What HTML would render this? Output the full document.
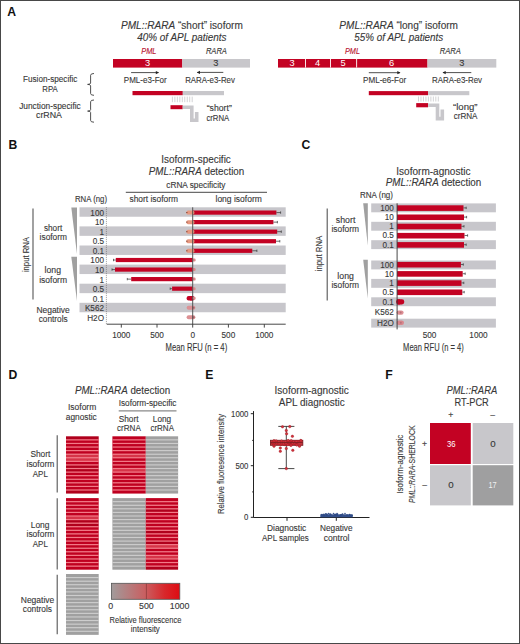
<!DOCTYPE html>
<html><head><meta charset="utf-8"><style>
html,body{margin:0;padding:0;background:#fff;}
body{width:520px;height:644px;overflow:hidden;}
svg{display:block;font-family:"Liberation Sans",sans-serif;}
</style></head><body>
<svg width="520" height="644" viewBox="0 0 520 644">
<rect x="0" y="0" width="520" height="644" fill="#fff"/>
<text x="7.3" y="15.6" font-size="12.2" text-anchor="start" fill="#111" font-weight="bold" font-style="normal" >A</text>
<text x="8.6" y="148.6" font-size="12.2" text-anchor="start" fill="#111" font-weight="bold" font-style="normal" >B</text>
<text x="301.6" y="148.6" font-size="12.2" text-anchor="start" fill="#111" font-weight="bold" font-style="normal" >C</text>
<text x="8.4" y="379.3" font-size="12.2" text-anchor="start" fill="#111" font-weight="bold" font-style="normal" >D</text>
<text x="205.2" y="379.3" font-size="12.2" text-anchor="start" fill="#111" font-weight="bold" font-style="normal" >E</text>
<text x="385.2" y="379.3" font-size="12.2" text-anchor="start" fill="#111" font-weight="bold" font-style="normal" >F</text>
<text x="121" y="29.0" font-size="10.37" text-anchor="start" fill="#383838" font-weight="normal" font-style="normal" textLength="121.8" lengthAdjust="spacingAndGlyphs" stroke="#383838" stroke-width="0.12" ><tspan font-style="italic">PML::RARA</tspan> “short” isoform</text>
<text x="137.2" y="41.2" font-size="10.37" text-anchor="start" fill="#383838" font-weight="normal" font-style="italic" textLength="89.4" lengthAdjust="spacingAndGlyphs" stroke="#383838" stroke-width="0.12" >40% of APL patients</text>
<text x="141.2" y="53.8" font-size="8.21" text-anchor="start" fill="#b8102e" font-weight="normal" font-style="italic" textLength="15.3" lengthAdjust="spacingAndGlyphs" stroke="#b8102e" stroke-width="0.12" >PML</text>
<text x="205.9" y="53.8" font-size="8.21" text-anchor="start" fill="#383838" font-weight="normal" font-style="italic" textLength="21" lengthAdjust="spacingAndGlyphs" stroke="#383838" stroke-width="0.12" >RARA</text>
<rect x="113.00" y="59.00" width="69.30" height="8.60" fill="#c30223" />
<rect x="182.30" y="59.00" width="67.70" height="8.60" fill="#c8c7cb" />
<text x="147.6" y="65.9" font-size="9.29" text-anchor="middle" fill="#fff" font-weight="normal" font-style="normal" >3</text>
<text x="215.8" y="65.9" font-size="9.29" text-anchor="middle" fill="#383838" font-weight="normal" font-style="normal" stroke="#383838" stroke-width="0.12" >3</text>
<text x="339.3" y="29.0" font-size="10.37" text-anchor="start" fill="#383838" font-weight="normal" font-style="normal" textLength="118.7" lengthAdjust="spacingAndGlyphs" stroke="#383838" stroke-width="0.12" ><tspan font-style="italic">PML::RARA</tspan> “long” isoform</text>
<text x="354.3" y="41.2" font-size="10.37" text-anchor="start" fill="#383838" font-weight="normal" font-style="italic" textLength="89" lengthAdjust="spacingAndGlyphs" stroke="#383838" stroke-width="0.12" >55% of APL patients</text>
<text x="345.0" y="53.8" font-size="8.21" text-anchor="start" fill="#b8102e" font-weight="normal" font-style="italic" textLength="15.0" lengthAdjust="spacingAndGlyphs" stroke="#b8102e" stroke-width="0.12" >PML</text>
<text x="439.7" y="53.8" font-size="8.21" text-anchor="start" fill="#383838" font-weight="normal" font-style="italic" textLength="21.2" lengthAdjust="spacingAndGlyphs" stroke="#383838" stroke-width="0.12" >RARA</text>
<rect x="278.00" y="59.00" width="149.50" height="8.60" fill="#c30223" />
<rect x="427.50" y="59.00" width="68.80" height="8.60" fill="#c8c7cb" />
<rect x="305.00" y="59.00" width="0.90" height="8.60" fill="#fff" />
<rect x="330.00" y="59.00" width="0.90" height="8.60" fill="#fff" />
<rect x="356.20" y="59.00" width="0.90" height="8.60" fill="#fff" />
<text x="292" y="65.9" font-size="9.29" text-anchor="middle" fill="#fff" font-weight="normal" font-style="normal" >3</text>
<text x="317.5" y="65.9" font-size="9.29" text-anchor="middle" fill="#fff" font-weight="normal" font-style="normal" >4</text>
<text x="343" y="65.9" font-size="9.29" text-anchor="middle" fill="#fff" font-weight="normal" font-style="normal" >5</text>
<text x="391.7" y="65.9" font-size="9.29" text-anchor="middle" fill="#fff" font-weight="normal" font-style="normal" >6</text>
<text x="461.8" y="65.9" font-size="9.29" text-anchor="middle" fill="#383838" font-weight="normal" font-style="normal" stroke="#383838" stroke-width="0.12" >3</text>
<line x1="131.1" y1="72.6" x2="158.5" y2="72.6" stroke="#222" stroke-width="0.8" />
<path d="M159.0,72.6 l-3.2,-1.6 l0,3.2 z" fill="#222"/>
<line x1="197.3" y1="72.4" x2="223.3" y2="72.4" stroke="#222" stroke-width="0.8" />
<path d="M196.8,72.4 l3.2,-1.6 l0,3.2 z" fill="#222"/>
<line x1="368.8" y1="72.7" x2="400.0" y2="72.7" stroke="#222" stroke-width="0.8" />
<path d="M400.5,72.7 l-3.2,-1.6 l0,3.2 z" fill="#222"/>
<line x1="443.0" y1="72.6" x2="471.3" y2="72.6" stroke="#222" stroke-width="0.8" />
<path d="M442.5,72.6 l3.2,-1.6 l0,3.2 z" fill="#222"/>
<text x="123.8" y="82.6" font-size="8.86" text-anchor="start" fill="#383838" font-weight="normal" font-style="normal" textLength="42.9" lengthAdjust="spacingAndGlyphs" stroke="#383838" stroke-width="0.12" >PML-e3-For</text>
<text x="185.2" y="82.5" font-size="8.86" text-anchor="start" fill="#383838" font-weight="normal" font-style="normal" textLength="49.7" lengthAdjust="spacingAndGlyphs" stroke="#383838" stroke-width="0.12" >RARA-e3-Rev</text>
<text x="363.0" y="82.5" font-size="8.86" text-anchor="start" fill="#383838" font-weight="normal" font-style="normal" textLength="43.2" lengthAdjust="spacingAndGlyphs" stroke="#383838" stroke-width="0.12" >PML-e6-For</text>
<text x="432.0" y="82.5" font-size="8.86" text-anchor="start" fill="#383838" font-weight="normal" font-style="normal" textLength="50" lengthAdjust="spacingAndGlyphs" stroke="#383838" stroke-width="0.12" >RARA-e3-Rev</text>
<rect x="132.50" y="91.00" width="50.30" height="4.20" fill="#c30223" />
<rect x="182.80" y="91.00" width="41.20" height="4.20" fill="#c8c7cb" />
<rect x="368.80" y="91.10" width="59.30" height="4.10" fill="#c30223" />
<rect x="428.10" y="91.10" width="41.20" height="4.10" fill="#c8c7cb" />
<line x1="172.40" y1="96.6" x2="172.40" y2="102.2" stroke="#b5b5b8" stroke-width="0.6" />
<line x1="174.88" y1="96.6" x2="174.88" y2="102.2" stroke="#b5b5b8" stroke-width="0.6" />
<line x1="177.35" y1="96.6" x2="177.35" y2="102.2" stroke="#b5b5b8" stroke-width="0.6" />
<line x1="179.82" y1="96.6" x2="179.82" y2="102.2" stroke="#b5b5b8" stroke-width="0.6" />
<line x1="182.30" y1="96.6" x2="182.30" y2="102.2" stroke="#b5b5b8" stroke-width="0.6" />
<line x1="184.78" y1="96.6" x2="184.78" y2="102.2" stroke="#b5b5b8" stroke-width="0.6" />
<line x1="187.25" y1="96.6" x2="187.25" y2="102.2" stroke="#b5b5b8" stroke-width="0.6" />
<line x1="189.72" y1="96.6" x2="189.72" y2="102.2" stroke="#b5b5b8" stroke-width="0.6" />
<line x1="192.20" y1="96.6" x2="192.20" y2="102.2" stroke="#b5b5b8" stroke-width="0.6" />
<line x1="418.50" y1="96.5" x2="418.50" y2="101.5" stroke="#b5b5b8" stroke-width="0.6" />
<line x1="420.98" y1="96.5" x2="420.98" y2="101.5" stroke="#b5b5b8" stroke-width="0.6" />
<line x1="423.45" y1="96.5" x2="423.45" y2="101.5" stroke="#b5b5b8" stroke-width="0.6" />
<line x1="425.93" y1="96.5" x2="425.93" y2="101.5" stroke="#b5b5b8" stroke-width="0.6" />
<line x1="428.40" y1="96.5" x2="428.40" y2="101.5" stroke="#b5b5b8" stroke-width="0.6" />
<line x1="430.88" y1="96.5" x2="430.88" y2="101.5" stroke="#b5b5b8" stroke-width="0.6" />
<line x1="433.35" y1="96.5" x2="433.35" y2="101.5" stroke="#b5b5b8" stroke-width="0.6" />
<line x1="435.82" y1="96.5" x2="435.82" y2="101.5" stroke="#b5b5b8" stroke-width="0.6" />
<line x1="438.30" y1="96.5" x2="438.30" y2="101.5" stroke="#b5b5b8" stroke-width="0.6" />
<rect x="170.50" y="105.20" width="12.20" height="4.00" fill="#c30223" />
<path d="M182.7,107.2 H191.8 V120.2 H196.7 V111.9" fill="none" stroke="#c8c7cb" stroke-width="3.6" stroke-linejoin="miter"/>
<rect x="416.20" y="103.10" width="11.90" height="4.20" fill="#c30223" />
<path d="M428.1,105.2 H437.5 V118.6 H442.3 V109.6" fill="none" stroke="#c8c7cb" stroke-width="3.6" stroke-linejoin="miter"/>
<text x="206.7" y="111.0" font-size="8.86" text-anchor="start" fill="#383838" font-weight="normal" font-style="normal" textLength="25.1" lengthAdjust="spacingAndGlyphs" stroke="#383838" stroke-width="0.12" >“short”</text>
<text x="206.4" y="120.5" font-size="8.86" text-anchor="start" fill="#383838" font-weight="normal" font-style="normal" textLength="22.8" lengthAdjust="spacingAndGlyphs" stroke="#383838" stroke-width="0.12" >crRNA</text>
<text x="453.0" y="110.0" font-size="8.86" text-anchor="start" fill="#383838" font-weight="normal" font-style="normal" textLength="24.5" lengthAdjust="spacingAndGlyphs" stroke="#383838" stroke-width="0.12" >“long”</text>
<text x="453.7" y="118.5" font-size="8.86" text-anchor="start" fill="#383838" font-weight="normal" font-style="normal" textLength="23.8" lengthAdjust="spacingAndGlyphs" stroke="#383838" stroke-width="0.12" >crRNA</text>
<text x="50.2" y="81.9" font-size="8.86" text-anchor="middle" fill="#383838" font-weight="normal" font-style="normal" textLength="54.3" lengthAdjust="spacingAndGlyphs" stroke="#383838" stroke-width="0.12" >Fusion-specific</text>
<text x="50.0" y="91.9" font-size="8.86" text-anchor="middle" fill="#383838" font-weight="normal" font-style="normal" textLength="15.4" lengthAdjust="spacingAndGlyphs" stroke="#383838" stroke-width="0.12" >RPA</text>
<text x="50.0" y="109.3" font-size="8.86" text-anchor="middle" fill="#383838" font-weight="normal" font-style="normal" textLength="61.6" lengthAdjust="spacingAndGlyphs" stroke="#383838" stroke-width="0.12" >Junction-specific</text>
<text x="49.0" y="117.9" font-size="8.86" text-anchor="middle" fill="#383838" font-weight="normal" font-style="normal" textLength="26" lengthAdjust="spacingAndGlyphs" stroke="#383838" stroke-width="0.12" >crRNA</text>
<path d="M94.0,73.5 Q90.6,73.5 90.6,75.3 V83.0 Q90.6,84.4 87.6,84.4 Q90.6,84.4 90.6,85.80000000000001 V93.5 Q90.6,95.3 94.0,95.3" fill="none" stroke="#333" stroke-width="0.85"/>
<path d="M94.0,100.0 Q90.6,100.0 90.6,101.8 V109.69999999999999 Q90.6,111.1 87.6,111.1 Q90.6,111.1 90.6,112.5 V120.4 Q90.6,122.2 94.0,122.2" fill="none" stroke="#333" stroke-width="0.85"/>
<text x="161.3" y="163.4" font-size="10.15" text-anchor="start" fill="#383838" font-weight="normal" font-style="normal" textLength="69.5" lengthAdjust="spacingAndGlyphs" stroke="#383838" stroke-width="0.12" >Isoform-specific</text>
<text x="148.8" y="175.3" font-size="10.15" text-anchor="start" fill="#383838" font-weight="normal" font-style="normal" textLength="95.5" lengthAdjust="spacingAndGlyphs" stroke="#383838" stroke-width="0.12" ><tspan font-style="italic">PML::RARA</tspan> detection</text>
<text x="166.3" y="187.5" font-size="8.42" text-anchor="start" fill="#383838" font-weight="normal" font-style="normal" textLength="59.2" lengthAdjust="spacingAndGlyphs" stroke="#383838" stroke-width="0.12" >cRNA specificity</text>
<line x1="125.8" y1="192.3" x2="267" y2="192.3" stroke="#333" stroke-width="0.9" />
<text x="129.5" y="202.0" font-size="8.42" text-anchor="start" fill="#383838" font-weight="normal" font-style="normal" textLength="48.5" lengthAdjust="spacingAndGlyphs" stroke="#383838" stroke-width="0.12" >short isoform</text>
<text x="215.5" y="202.0" font-size="8.42" text-anchor="start" fill="#383838" font-weight="normal" font-style="normal" textLength="46.3" lengthAdjust="spacingAndGlyphs" stroke="#383838" stroke-width="0.12" >long isoform</text>
<text x="75.0" y="202.0" font-size="8.42" text-anchor="start" fill="#383838" font-weight="normal" font-style="normal" textLength="32" lengthAdjust="spacingAndGlyphs" stroke="#383838" stroke-width="0.12" >RNA (ng)</text>
<rect x="79.50" y="207.30" width="206.20" height="9.45" fill="#c7c6cb" />
<rect x="79.50" y="226.40" width="206.20" height="9.45" fill="#c7c6cb" />
<rect x="79.50" y="245.50" width="206.20" height="9.45" fill="#c7c6cb" />
<rect x="79.50" y="264.60" width="206.20" height="9.45" fill="#c7c6cb" />
<rect x="79.50" y="283.70" width="206.20" height="9.45" fill="#c7c6cb" />
<rect x="79.50" y="302.80" width="206.20" height="9.45" fill="#c7c6cb" />
<text x="104.0" y="215.70000000000002" font-size="9.29" text-anchor="end" fill="#383838" font-weight="normal" font-style="normal" textLength="13.64" lengthAdjust="spacingAndGlyphs" stroke="#383838" stroke-width="0.12" >100</text>
<text x="104.0" y="225.25000000000003" font-size="9.29" text-anchor="end" fill="#383838" font-weight="normal" font-style="normal" textLength="9.09" lengthAdjust="spacingAndGlyphs" stroke="#383838" stroke-width="0.12" >10</text>
<text x="104.0" y="234.8" font-size="9.29" text-anchor="end" fill="#383838" font-weight="normal" font-style="normal" textLength="4.55" lengthAdjust="spacingAndGlyphs" stroke="#383838" stroke-width="0.12" >1</text>
<text x="104.0" y="244.35000000000002" font-size="9.29" text-anchor="end" fill="#383838" font-weight="normal" font-style="normal" textLength="11.36" lengthAdjust="spacingAndGlyphs" stroke="#383838" stroke-width="0.12" >0.5</text>
<text x="104.0" y="253.9" font-size="9.29" text-anchor="end" fill="#383838" font-weight="normal" font-style="normal" textLength="11.36" lengthAdjust="spacingAndGlyphs" stroke="#383838" stroke-width="0.12" >0.1</text>
<text x="104.0" y="263.45" font-size="9.29" text-anchor="end" fill="#383838" font-weight="normal" font-style="normal" textLength="13.64" lengthAdjust="spacingAndGlyphs" stroke="#383838" stroke-width="0.12" >100</text>
<text x="104.0" y="273.0" font-size="9.29" text-anchor="end" fill="#383838" font-weight="normal" font-style="normal" textLength="9.09" lengthAdjust="spacingAndGlyphs" stroke="#383838" stroke-width="0.12" >10</text>
<text x="104.0" y="282.55" font-size="9.29" text-anchor="end" fill="#383838" font-weight="normal" font-style="normal" textLength="4.55" lengthAdjust="spacingAndGlyphs" stroke="#383838" stroke-width="0.12" >1</text>
<text x="104.0" y="292.1" font-size="9.29" text-anchor="end" fill="#383838" font-weight="normal" font-style="normal" textLength="11.36" lengthAdjust="spacingAndGlyphs" stroke="#383838" stroke-width="0.12" >0.5</text>
<text x="104.0" y="301.65" font-size="9.29" text-anchor="end" fill="#383838" font-weight="normal" font-style="normal" textLength="11.36" lengthAdjust="spacingAndGlyphs" stroke="#383838" stroke-width="0.12" >0.1</text>
<text x="104.0" y="311.2" font-size="9.29" text-anchor="end" fill="#383838" font-weight="normal" font-style="normal" textLength="19.09" lengthAdjust="spacingAndGlyphs" stroke="#383838" stroke-width="0.12" >K562</text>
<text x="104.0" y="321.35" font-size="9.29" text-anchor="end" fill="#383838" font-weight="normal" font-style="normal" textLength="16.81" lengthAdjust="spacingAndGlyphs" stroke="#383838" stroke-width="0.12" >H2O</text>
<line x1="106.4" y1="207.3" x2="106.4" y2="324.2" stroke="#666" stroke-width="0.8" stroke-dasharray="0.8,1.2"/>
<rect x="192.70" y="210.48" width="83.70" height="4.20" fill="#c30223" />
<line x1="276.4" y1="212.57500000000002" x2="280.6" y2="212.57500000000002" stroke="#333" stroke-width="0.7" />
<line x1="280.6" y1="211.37500000000003" x2="280.6" y2="213.775" stroke="#333" stroke-width="0.7" />
<rect x="186.4" y="210.58" width="8" height="4" rx="1.6" fill="#e6977f"/>
<line x1="186.0" y1="212.57500000000002" x2="187.6" y2="212.57500000000002" stroke="#8a4a3a" stroke-width="0.9" />
<rect x="192.70" y="220.03" width="80.70" height="4.20" fill="#c30223" />
<line x1="273.4" y1="222.12500000000003" x2="277.4" y2="222.12500000000003" stroke="#333" stroke-width="0.7" />
<line x1="277.4" y1="220.92500000000004" x2="277.4" y2="223.32500000000002" stroke="#333" stroke-width="0.7" />
<rect x="186.4" y="220.13" width="8" height="4" rx="1.6" fill="#e6977f"/>
<line x1="186.0" y1="222.12500000000003" x2="187.6" y2="222.12500000000003" stroke="#8a4a3a" stroke-width="0.9" />
<rect x="192.70" y="229.58" width="84.50" height="4.20" fill="#c30223" />
<line x1="277.2" y1="231.675" x2="281.3" y2="231.675" stroke="#333" stroke-width="0.7" />
<line x1="281.3" y1="230.47500000000002" x2="281.3" y2="232.875" stroke="#333" stroke-width="0.7" />
<rect x="186.4" y="229.68" width="8" height="4" rx="1.6" fill="#e6977f"/>
<line x1="186.0" y1="231.675" x2="187.6" y2="231.675" stroke="#8a4a3a" stroke-width="0.9" />
<rect x="192.70" y="239.13" width="83.30" height="4.20" fill="#c30223" />
<line x1="276.0" y1="241.22500000000002" x2="279.8" y2="241.22500000000002" stroke="#333" stroke-width="0.7" />
<line x1="279.8" y1="240.02500000000003" x2="279.8" y2="242.425" stroke="#333" stroke-width="0.7" />
<rect x="186.4" y="239.23" width="8" height="4" rx="1.6" fill="#e6977f"/>
<line x1="186.0" y1="241.22500000000002" x2="187.6" y2="241.22500000000002" stroke="#8a4a3a" stroke-width="0.9" />
<rect x="192.70" y="248.68" width="59.60" height="4.20" fill="#c30223" />
<line x1="252.3" y1="250.775" x2="256.9" y2="250.775" stroke="#333" stroke-width="0.7" />
<line x1="256.9" y1="249.57500000000002" x2="256.9" y2="251.975" stroke="#333" stroke-width="0.7" />
<rect x="186.4" y="248.78" width="8" height="4" rx="1.6" fill="#e6977f"/>
<line x1="186.0" y1="250.775" x2="187.6" y2="250.775" stroke="#8a4a3a" stroke-width="0.9" />
<rect x="115.80" y="257.92" width="76.90" height="4.20" fill="#c30223" />
<line x1="115.8" y1="260.025" x2="113.5" y2="260.025" stroke="#333" stroke-width="0.7" />
<line x1="113.5" y1="258.825" x2="113.5" y2="261.22499999999997" stroke="#333" stroke-width="0.7" />
<rect x="192.2" y="258.52" width="3.4" height="3" rx="1.2" fill="#d98a8c"/>
<rect x="115.00" y="267.47" width="77.70" height="4.20" fill="#c30223" />
<line x1="115.0" y1="269.575" x2="112.0" y2="269.575" stroke="#333" stroke-width="0.7" />
<line x1="112.0" y1="268.375" x2="112.0" y2="270.775" stroke="#333" stroke-width="0.7" />
<rect x="192.2" y="268.07" width="3.4" height="3" rx="1.2" fill="#d98a8c"/>
<rect x="131.20" y="277.02" width="61.50" height="4.20" fill="#c30223" />
<line x1="131.2" y1="279.125" x2="127.3" y2="279.125" stroke="#333" stroke-width="0.7" />
<line x1="127.3" y1="277.925" x2="127.3" y2="280.325" stroke="#333" stroke-width="0.7" />
<rect x="192.2" y="277.62" width="3.4" height="3" rx="1.2" fill="#d98a8c"/>
<rect x="172.10" y="286.57" width="20.60" height="4.20" fill="#c30223" />
<line x1="172.1" y1="288.675" x2="170.2" y2="288.675" stroke="#333" stroke-width="0.7" />
<line x1="170.2" y1="287.475" x2="170.2" y2="289.875" stroke="#333" stroke-width="0.7" />
<rect x="192.2" y="287.18" width="3.4" height="3" rx="1.2" fill="#d98a8c"/>
<rect x="186.6" y="296.02" width="8" height="4.4" rx="2" fill="#c30223"/>
<rect x="190.00" y="296.02" width="2.70" height="4.40" fill="#c30223" />
<rect x="192.2" y="296.72" width="3.4" height="3" rx="1.2" fill="#d98a8c"/>
<rect x="186.6" y="305.77" width="8.8" height="4" rx="2" fill="#dc9094"/>
<circle cx="193.6" cy="307.77" r="1.1" fill="#a86a70"/>
<rect x="186.6" y="315.32" width="8.8" height="4" rx="2" fill="#dc9094"/>
<circle cx="193.6" cy="317.32" r="1.1" fill="#a86a70"/>
<line x1="192.7" y1="207.3" x2="192.7" y2="324.3" stroke="#444" stroke-width="0.9" />
<line x1="106.8" y1="324.2" x2="285.7" y2="324.2" stroke="#333" stroke-width="0.9" />
<line x1="121.3" y1="324.2" x2="121.3" y2="327.6" stroke="#333" stroke-width="0.9" />
<text x="121.3" y="337.5" font-size="8.86" text-anchor="middle" fill="#383838" font-weight="normal" font-style="normal" textLength="18.32" lengthAdjust="spacingAndGlyphs" stroke="#383838" stroke-width="0.12" >1000</text>
<line x1="157.0" y1="324.2" x2="157.0" y2="327.6" stroke="#333" stroke-width="0.9" />
<text x="157.0" y="337.5" font-size="8.86" text-anchor="middle" fill="#383838" font-weight="normal" font-style="normal" textLength="13.74" lengthAdjust="spacingAndGlyphs" stroke="#383838" stroke-width="0.12" >500</text>
<line x1="192.7" y1="324.2" x2="192.7" y2="327.6" stroke="#333" stroke-width="0.9" />
<text x="192.7" y="337.5" font-size="8.86" text-anchor="middle" fill="#383838" font-weight="normal" font-style="normal" textLength="4.58" lengthAdjust="spacingAndGlyphs" stroke="#383838" stroke-width="0.12" >0</text>
<line x1="228.4" y1="324.2" x2="228.4" y2="327.6" stroke="#333" stroke-width="0.9" />
<text x="228.4" y="337.5" font-size="8.86" text-anchor="middle" fill="#383838" font-weight="normal" font-style="normal" textLength="13.74" lengthAdjust="spacingAndGlyphs" stroke="#383838" stroke-width="0.12" >500</text>
<line x1="264.3" y1="324.2" x2="264.3" y2="327.6" stroke="#333" stroke-width="0.9" />
<text x="264.3" y="337.5" font-size="8.86" text-anchor="middle" fill="#383838" font-weight="normal" font-style="normal" textLength="18.32" lengthAdjust="spacingAndGlyphs" stroke="#383838" stroke-width="0.12" >1000</text>
<text x="165.6" y="351.4" font-size="10.15" text-anchor="start" fill="#383838" font-weight="normal" font-style="normal" textLength="61.6" lengthAdjust="spacingAndGlyphs" stroke="#383838" stroke-width="0.12" >Mean RFU (n = 4)</text>
<path d="M71.3,207.6 H77 V254 Z" fill="#a0a0a0"/>
<path d="M71.3,256.8 H77 V301 Z" fill="#a0a0a0"/>
<line x1="33" y1="208.6" x2="33" y2="299.5" stroke="#555" stroke-width="1.1" />
<text x="28.9" y="254.6" font-size="8.86" text-anchor="middle" fill="#383838" font-weight="normal" font-style="normal" textLength="35" lengthAdjust="spacingAndGlyphs" stroke="#383838" stroke-width="0.12" transform="rotate(-90 28.9 254.6)">input RNA</text>
<text x="53.05" y="230.6" font-size="8.86" text-anchor="middle" fill="#383838" font-weight="normal" font-style="normal" textLength="18.3" lengthAdjust="spacingAndGlyphs" stroke="#383838" stroke-width="0.12" >short</text>
<text x="53.3" y="239.8" font-size="8.86" text-anchor="middle" fill="#383838" font-weight="normal" font-style="normal" textLength="27.4" lengthAdjust="spacingAndGlyphs" stroke="#383838" stroke-width="0.12" >isoform</text>
<text x="52.8" y="273.2" font-size="8.86" text-anchor="middle" fill="#383838" font-weight="normal" font-style="normal" textLength="16.4" lengthAdjust="spacingAndGlyphs" stroke="#383838" stroke-width="0.12" >long</text>
<text x="53.1" y="283.0" font-size="8.86" text-anchor="middle" fill="#383838" font-weight="normal" font-style="normal" textLength="27.9" lengthAdjust="spacingAndGlyphs" stroke="#383838" stroke-width="0.12" >isoform</text>
<text x="53.1" y="312.5" font-size="8.86" text-anchor="middle" fill="#383838" font-weight="normal" font-style="normal" textLength="33.4" lengthAdjust="spacingAndGlyphs" stroke="#383838" stroke-width="0.12" >Negative</text>
<text x="53.2" y="321.5" font-size="8.86" text-anchor="middle" fill="#383838" font-weight="normal" font-style="normal" textLength="29" lengthAdjust="spacingAndGlyphs" stroke="#383838" stroke-width="0.12" >controls</text>
<text x="396.3" y="174.7" font-size="10.15" text-anchor="start" fill="#383838" font-weight="normal" font-style="normal" textLength="74.2" lengthAdjust="spacingAndGlyphs" stroke="#383838" stroke-width="0.12" >Isoform-agnostic</text>
<text x="385.8" y="185.5" font-size="10.15" text-anchor="start" fill="#383838" font-weight="normal" font-style="normal" textLength="95.5" lengthAdjust="spacingAndGlyphs" stroke="#383838" stroke-width="0.12" ><tspan font-style="italic">PML::RARA</tspan> detection</text>
<text x="360.0" y="198.0" font-size="8.42" text-anchor="start" fill="#383838" font-weight="normal" font-style="normal" textLength="33" lengthAdjust="spacingAndGlyphs" stroke="#383838" stroke-width="0.12" >RNA (ng)</text>
<rect x="371.20" y="203.40" width="124.70" height="8.90" fill="#c7c6cb" />
<rect x="371.20" y="221.80" width="124.70" height="8.90" fill="#c7c6cb" />
<rect x="371.20" y="240.20" width="124.70" height="8.90" fill="#c7c6cb" />
<rect x="371.20" y="260.50" width="124.70" height="8.90" fill="#c7c6cb" />
<rect x="371.20" y="278.90" width="124.70" height="8.90" fill="#c7c6cb" />
<rect x="371.20" y="297.30" width="124.70" height="8.90" fill="#c7c6cb" />
<rect x="371.20" y="318.70" width="124.70" height="8.90" fill="#c7c6cb" />
<text x="393.9" y="210.70000000000002" font-size="9.29" text-anchor="end" fill="#383838" font-weight="normal" font-style="normal" textLength="13.64" lengthAdjust="spacingAndGlyphs" stroke="#383838" stroke-width="0.12" >100</text>
<text x="393.9" y="219.9" font-size="9.29" text-anchor="end" fill="#383838" font-weight="normal" font-style="normal" textLength="9.09" lengthAdjust="spacingAndGlyphs" stroke="#383838" stroke-width="0.12" >10</text>
<text x="393.9" y="229.10000000000002" font-size="9.29" text-anchor="end" fill="#383838" font-weight="normal" font-style="normal" textLength="4.55" lengthAdjust="spacingAndGlyphs" stroke="#383838" stroke-width="0.12" >1</text>
<text x="393.9" y="238.3" font-size="9.29" text-anchor="end" fill="#383838" font-weight="normal" font-style="normal" textLength="11.36" lengthAdjust="spacingAndGlyphs" stroke="#383838" stroke-width="0.12" >0.5</text>
<text x="393.9" y="247.50000000000003" font-size="9.29" text-anchor="end" fill="#383838" font-weight="normal" font-style="normal" textLength="11.36" lengthAdjust="spacingAndGlyphs" stroke="#383838" stroke-width="0.12" >0.1</text>
<text x="393.9" y="267.8" font-size="9.29" text-anchor="end" fill="#383838" font-weight="normal" font-style="normal" textLength="13.64" lengthAdjust="spacingAndGlyphs" stroke="#383838" stroke-width="0.12" >100</text>
<text x="393.9" y="277.0" font-size="9.29" text-anchor="end" fill="#383838" font-weight="normal" font-style="normal" textLength="9.09" lengthAdjust="spacingAndGlyphs" stroke="#383838" stroke-width="0.12" >10</text>
<text x="393.9" y="286.2" font-size="9.29" text-anchor="end" fill="#383838" font-weight="normal" font-style="normal" textLength="4.55" lengthAdjust="spacingAndGlyphs" stroke="#383838" stroke-width="0.12" >1</text>
<text x="393.9" y="295.40000000000003" font-size="9.29" text-anchor="end" fill="#383838" font-weight="normal" font-style="normal" textLength="11.36" lengthAdjust="spacingAndGlyphs" stroke="#383838" stroke-width="0.12" >0.5</text>
<text x="393.9" y="304.6" font-size="9.29" text-anchor="end" fill="#383838" font-weight="normal" font-style="normal" textLength="11.36" lengthAdjust="spacingAndGlyphs" stroke="#383838" stroke-width="0.12" >0.1</text>
<text x="393.9" y="315.0" font-size="9.29" text-anchor="end" fill="#383838" font-weight="normal" font-style="normal" textLength="19.09" lengthAdjust="spacingAndGlyphs" stroke="#383838" stroke-width="0.12" >K562</text>
<text x="393.9" y="326.00000000000006" font-size="9.29" text-anchor="end" fill="#383838" font-weight="normal" font-style="normal" textLength="16.81" lengthAdjust="spacingAndGlyphs" stroke="#383838" stroke-width="0.12" >H2O</text>
<rect x="397.10" y="205.30" width="66.40" height="5.60" fill="#c30223" />
<line x1="463.5" y1="207.9" x2="466.2" y2="207.9" stroke="#333" stroke-width="0.7" />
<line x1="466.2" y1="206.70000000000002" x2="466.2" y2="209.1" stroke="#333" stroke-width="0.7" />
<rect x="397.10" y="214.50" width="66.90" height="5.60" fill="#c30223" />
<line x1="464.0" y1="217.1" x2="466.6" y2="217.1" stroke="#333" stroke-width="0.7" />
<line x1="466.6" y1="215.9" x2="466.6" y2="218.29999999999998" stroke="#333" stroke-width="0.7" />
<rect x="397.10" y="223.70" width="64.40" height="5.60" fill="#c30223" />
<line x1="461.5" y1="226.3" x2="464.0" y2="226.3" stroke="#333" stroke-width="0.7" />
<line x1="464.0" y1="225.10000000000002" x2="464.0" y2="227.5" stroke="#333" stroke-width="0.7" />
<rect x="397.10" y="232.90" width="67.40" height="5.60" fill="#c30223" />
<line x1="464.5" y1="235.5" x2="467.6" y2="235.5" stroke="#333" stroke-width="0.7" />
<line x1="467.6" y1="234.3" x2="467.6" y2="236.7" stroke="#333" stroke-width="0.7" />
<rect x="397.10" y="242.10" width="66.90" height="5.60" fill="#c30223" />
<line x1="464.0" y1="244.70000000000002" x2="466.2" y2="244.70000000000002" stroke="#333" stroke-width="0.7" />
<line x1="466.2" y1="243.50000000000003" x2="466.2" y2="245.9" stroke="#333" stroke-width="0.7" />
<rect x="397.10" y="261.90" width="63.80" height="5.60" fill="#c30223" />
<line x1="460.9" y1="264.5" x2="463.3" y2="264.5" stroke="#333" stroke-width="0.7" />
<line x1="463.3" y1="263.3" x2="463.3" y2="265.7" stroke="#333" stroke-width="0.7" />
<rect x="397.10" y="271.10" width="65.60" height="5.60" fill="#c30223" />
<line x1="462.7" y1="273.7" x2="465.2" y2="273.7" stroke="#333" stroke-width="0.7" />
<line x1="465.2" y1="272.5" x2="465.2" y2="274.9" stroke="#333" stroke-width="0.7" />
<rect x="397.10" y="280.30" width="64.40" height="5.60" fill="#c30223" />
<line x1="461.5" y1="282.9" x2="463.8" y2="282.9" stroke="#333" stroke-width="0.7" />
<line x1="463.8" y1="281.7" x2="463.8" y2="284.09999999999997" stroke="#333" stroke-width="0.7" />
<rect x="397.10" y="289.50" width="65.20" height="5.60" fill="#c30223" />
<line x1="462.3" y1="292.1" x2="464.2" y2="292.1" stroke="#333" stroke-width="0.7" />
<line x1="464.2" y1="290.90000000000003" x2="464.2" y2="293.3" stroke="#333" stroke-width="0.7" />
<rect x="396.1" y="299.3" width="8.2" height="5.2" rx="2.4" fill="#c30223"/>
<rect x="397.10" y="299.30" width="3.00" height="5.20" fill="#c30223" />
<rect x="396.6" y="310.4" width="7" height="4.4" rx="2.2" fill="#dc8f94"/>
<rect x="396.6" y="320.4" width="7.4" height="4.6" rx="2.3" fill="#d9868c"/>
<circle cx="400.6" cy="312.6" r="1.0" fill="#b87078"/>
<circle cx="400.8" cy="322.7" r="1.0" fill="#b87078"/>
<line x1="397.1" y1="203.3" x2="397.1" y2="329.4" stroke="#333" stroke-width="0.9" />
<text x="429.6" y="338.0" font-size="8.86" text-anchor="middle" fill="#383838" font-weight="normal" font-style="normal" textLength="13.74" lengthAdjust="spacingAndGlyphs" stroke="#383838" stroke-width="0.12" >500</text>
<text x="478.5" y="338.0" font-size="8.86" text-anchor="middle" fill="#383838" font-weight="normal" font-style="normal" textLength="18.32" lengthAdjust="spacingAndGlyphs" stroke="#383838" stroke-width="0.12" >1000</text>
<text x="403.1" y="351.4" font-size="10.15" text-anchor="start" fill="#383838" font-weight="normal" font-style="normal" textLength="60.6" lengthAdjust="spacingAndGlyphs" stroke="#383838" stroke-width="0.12" >Mean RFU (n = 4)</text>
<path d="M363.2,203.3 H367.8 V245.5 Z" fill="#a0a0a0"/>
<path d="M363.2,259.8 H367.8 V298.5 Z" fill="#a0a0a0"/>
<line x1="327.2" y1="208.5" x2="327.2" y2="300.4" stroke="#555" stroke-width="1.1" />
<text x="322.3" y="253.5" font-size="8.86" text-anchor="middle" fill="#383838" font-weight="normal" font-style="normal" textLength="35.6" lengthAdjust="spacingAndGlyphs" stroke="#383838" stroke-width="0.12" transform="rotate(-90 322.3 253.5)">input RNA</text>
<text x="345.6" y="222.8" font-size="8.86" text-anchor="middle" fill="#383838" font-weight="normal" font-style="normal" textLength="19.5" lengthAdjust="spacingAndGlyphs" stroke="#383838" stroke-width="0.12" >short</text>
<text x="345.3" y="232.4" font-size="8.86" text-anchor="middle" fill="#383838" font-weight="normal" font-style="normal" textLength="27.6" lengthAdjust="spacingAndGlyphs" stroke="#383838" stroke-width="0.12" >isoform</text>
<text x="345.6" y="279.3" font-size="8.86" text-anchor="middle" fill="#383838" font-weight="normal" font-style="normal" textLength="16.5" lengthAdjust="spacingAndGlyphs" stroke="#383838" stroke-width="0.12" >long</text>
<text x="345.3" y="288.3" font-size="8.86" text-anchor="middle" fill="#383838" font-weight="normal" font-style="normal" textLength="27.6" lengthAdjust="spacingAndGlyphs" stroke="#383838" stroke-width="0.12" >isoform</text>
<text x="74.9" y="394.2" font-size="10.15" text-anchor="start" fill="#383838" font-weight="normal" font-style="normal" textLength="95.3" lengthAdjust="spacingAndGlyphs" stroke="#383838" stroke-width="0.12" ><tspan font-style="italic">PML::RARA</tspan> detection</text>
<text x="82.1" y="410.0" font-size="8.86" text-anchor="middle" fill="#383838" font-weight="normal" font-style="normal" textLength="28.2" lengthAdjust="spacingAndGlyphs" stroke="#383838" stroke-width="0.12" >Isoform</text>
<text x="81.3" y="419.8" font-size="8.86" text-anchor="middle" fill="#383838" font-weight="normal" font-style="normal" textLength="31" lengthAdjust="spacingAndGlyphs" stroke="#383838" stroke-width="0.12" >agnostic</text>
<text x="147.6" y="406.2" font-size="8.86" text-anchor="middle" fill="#383838" font-weight="normal" font-style="normal" textLength="57.8" lengthAdjust="spacingAndGlyphs" stroke="#383838" stroke-width="0.12" >Isoform-specific</text>
<line x1="118.7" y1="410.8" x2="176.5" y2="410.8" stroke="#8a8a8a" stroke-width="1.3" />
<text x="128.6" y="421.6" font-size="8.86" text-anchor="middle" fill="#383838" font-weight="normal" font-style="normal" textLength="19.8" lengthAdjust="spacingAndGlyphs" stroke="#383838" stroke-width="0.12" >Short</text>
<text x="128.9" y="430.8" font-size="8.86" text-anchor="middle" fill="#383838" font-weight="normal" font-style="normal" textLength="23.8" lengthAdjust="spacingAndGlyphs" stroke="#383838" stroke-width="0.12" >crRNA</text>
<text x="162.0" y="421.6" font-size="8.86" text-anchor="middle" fill="#383838" font-weight="normal" font-style="normal" textLength="18.3" lengthAdjust="spacingAndGlyphs" stroke="#383838" stroke-width="0.12" >Long</text>
<text x="162.2" y="430.8" font-size="8.86" text-anchor="middle" fill="#383838" font-weight="normal" font-style="normal" textLength="23.6" lengthAdjust="spacingAndGlyphs" stroke="#383838" stroke-width="0.12" >crRNA</text>
<rect x="66.00" y="436.30" width="32.70" height="3.58" fill="#b0001c" />
<rect x="66.00" y="439.88" width="32.70" height="3.58" fill="#bf0020" />
<rect x="66.00" y="443.46" width="32.70" height="3.58" fill="#bf0020" />
<rect x="66.00" y="447.04" width="32.70" height="3.58" fill="#bf0020" />
<rect x="66.00" y="450.62" width="32.70" height="3.58" fill="#bf0020" />
<rect x="66.00" y="454.20" width="32.70" height="3.58" fill="#d63448" />
<rect x="66.00" y="457.78" width="32.70" height="3.58" fill="#d63448" />
<rect x="66.00" y="461.36" width="32.70" height="3.58" fill="#bf0020" />
<rect x="66.00" y="464.94" width="32.70" height="3.58" fill="#b0001c" />
<rect x="66.00" y="468.52" width="32.70" height="3.58" fill="#b0001c" />
<rect x="66.00" y="472.10" width="32.70" height="3.58" fill="#bf0020" />
<rect x="66.00" y="475.68" width="32.70" height="3.58" fill="#bf0020" />
<rect x="66.00" y="479.26" width="32.70" height="3.58" fill="#bf0020" />
<rect x="66.00" y="482.84" width="32.70" height="3.58" fill="#bf0020" />
<rect x="66.00" y="486.42" width="32.70" height="3.58" fill="#bf0020" />
<rect x="66.00" y="490.00" width="32.70" height="3.58" fill="#b0001c" />
<rect x="66.00" y="439.28" width="32.70" height="1.20" fill="#f27b88" />
<rect x="66.00" y="442.86" width="32.70" height="1.20" fill="#f27b88" />
<rect x="66.00" y="446.44" width="32.70" height="1.20" fill="#f27b88" />
<rect x="66.00" y="450.02" width="32.70" height="1.20" fill="#f27b88" />
<rect x="66.00" y="453.60" width="32.70" height="1.20" fill="#f27b88" />
<rect x="66.00" y="457.18" width="32.70" height="1.20" fill="#f27b88" />
<rect x="66.00" y="460.76" width="32.70" height="1.20" fill="#f27b88" />
<rect x="66.00" y="464.34" width="32.70" height="1.20" fill="#f27b88" />
<rect x="66.00" y="467.92" width="32.70" height="1.20" fill="#f27b88" />
<rect x="66.00" y="471.50" width="32.70" height="1.20" fill="#f27b88" />
<rect x="66.00" y="475.08" width="32.70" height="1.20" fill="#f27b88" />
<rect x="66.00" y="478.66" width="32.70" height="1.20" fill="#f27b88" />
<rect x="66.00" y="482.24" width="32.70" height="1.20" fill="#f27b88" />
<rect x="66.00" y="485.82" width="32.70" height="1.20" fill="#f27b88" />
<rect x="66.00" y="489.40" width="32.70" height="1.20" fill="#f27b88" />
<rect x="112.40" y="436.30" width="33.40" height="3.58" fill="#bf0020" />
<rect x="112.40" y="439.88" width="33.40" height="3.58" fill="#bf0020" />
<rect x="112.40" y="443.46" width="33.40" height="3.58" fill="#bf0020" />
<rect x="112.40" y="447.04" width="33.40" height="3.58" fill="#bf0020" />
<rect x="112.40" y="450.62" width="33.40" height="3.58" fill="#bf0020" />
<rect x="112.40" y="454.20" width="33.40" height="3.58" fill="#d63448" />
<rect x="112.40" y="457.78" width="33.40" height="3.58" fill="#bf0020" />
<rect x="112.40" y="461.36" width="33.40" height="3.58" fill="#bf0020" />
<rect x="112.40" y="464.94" width="33.40" height="3.58" fill="#bf0020" />
<rect x="112.40" y="468.52" width="33.40" height="3.58" fill="#d63448" />
<rect x="112.40" y="472.10" width="33.40" height="3.58" fill="#bf0020" />
<rect x="112.40" y="475.68" width="33.40" height="3.58" fill="#bf0020" />
<rect x="112.40" y="479.26" width="33.40" height="3.58" fill="#bf0020" />
<rect x="112.40" y="482.84" width="33.40" height="3.58" fill="#bf0020" />
<rect x="112.40" y="486.42" width="33.40" height="3.58" fill="#bf0020" />
<rect x="112.40" y="490.00" width="33.40" height="3.58" fill="#bf0020" />
<rect x="112.40" y="439.28" width="33.40" height="1.20" fill="#f27b88" />
<rect x="112.40" y="442.86" width="33.40" height="1.20" fill="#f27b88" />
<rect x="112.40" y="446.44" width="33.40" height="1.20" fill="#f27b88" />
<rect x="112.40" y="450.02" width="33.40" height="1.20" fill="#f27b88" />
<rect x="112.40" y="453.60" width="33.40" height="1.20" fill="#f27b88" />
<rect x="112.40" y="457.18" width="33.40" height="1.20" fill="#f27b88" />
<rect x="112.40" y="460.76" width="33.40" height="1.20" fill="#f27b88" />
<rect x="112.40" y="464.34" width="33.40" height="1.20" fill="#f27b88" />
<rect x="112.40" y="467.92" width="33.40" height="1.20" fill="#f27b88" />
<rect x="112.40" y="471.50" width="33.40" height="1.20" fill="#f27b88" />
<rect x="112.40" y="475.08" width="33.40" height="1.20" fill="#f27b88" />
<rect x="112.40" y="478.66" width="33.40" height="1.20" fill="#f27b88" />
<rect x="112.40" y="482.24" width="33.40" height="1.20" fill="#f27b88" />
<rect x="112.40" y="485.82" width="33.40" height="1.20" fill="#f27b88" />
<rect x="112.40" y="489.40" width="33.40" height="1.20" fill="#f27b88" />
<rect x="145.80" y="436.30" width="32.30" height="3.58" fill="#a0a0a0" />
<rect x="145.80" y="439.88" width="32.30" height="3.58" fill="#a0a0a0" />
<rect x="145.80" y="443.46" width="32.30" height="3.58" fill="#a0a0a0" />
<rect x="145.80" y="447.04" width="32.30" height="3.58" fill="#a0a0a0" />
<rect x="145.80" y="450.62" width="32.30" height="3.58" fill="#a0a0a0" />
<rect x="145.80" y="454.20" width="32.30" height="3.58" fill="#a0a0a0" />
<rect x="145.80" y="457.78" width="32.30" height="3.58" fill="#a0a0a0" />
<rect x="145.80" y="461.36" width="32.30" height="3.58" fill="#a0a0a0" />
<rect x="145.80" y="464.94" width="32.30" height="3.58" fill="#a0a0a0" />
<rect x="145.80" y="468.52" width="32.30" height="3.58" fill="#a0a0a0" />
<rect x="145.80" y="472.10" width="32.30" height="3.58" fill="#a0a0a0" />
<rect x="145.80" y="475.68" width="32.30" height="3.58" fill="#a0a0a0" />
<rect x="145.80" y="479.26" width="32.30" height="3.58" fill="#a0a0a0" />
<rect x="145.80" y="482.84" width="32.30" height="3.58" fill="#a0a0a0" />
<rect x="145.80" y="486.42" width="32.30" height="3.58" fill="#a0a0a0" />
<rect x="145.80" y="490.00" width="32.30" height="3.58" fill="#a0a0a0" />
<rect x="145.80" y="439.33" width="32.30" height="1.10" fill="#cdcdcd" />
<rect x="145.80" y="442.91" width="32.30" height="1.10" fill="#cdcdcd" />
<rect x="145.80" y="446.49" width="32.30" height="1.10" fill="#cdcdcd" />
<rect x="145.80" y="450.07" width="32.30" height="1.10" fill="#cdcdcd" />
<rect x="145.80" y="453.65" width="32.30" height="1.10" fill="#cdcdcd" />
<rect x="145.80" y="457.23" width="32.30" height="1.10" fill="#cdcdcd" />
<rect x="145.80" y="460.81" width="32.30" height="1.10" fill="#cdcdcd" />
<rect x="145.80" y="464.39" width="32.30" height="1.10" fill="#cdcdcd" />
<rect x="145.80" y="467.97" width="32.30" height="1.10" fill="#cdcdcd" />
<rect x="145.80" y="471.55" width="32.30" height="1.10" fill="#cdcdcd" />
<rect x="145.80" y="475.13" width="32.30" height="1.10" fill="#cdcdcd" />
<rect x="145.80" y="478.71" width="32.30" height="1.10" fill="#cdcdcd" />
<rect x="145.80" y="482.29" width="32.30" height="1.10" fill="#cdcdcd" />
<rect x="145.80" y="485.87" width="32.30" height="1.10" fill="#cdcdcd" />
<rect x="145.80" y="489.45" width="32.30" height="1.10" fill="#cdcdcd" />
<rect x="66.00" y="498.10" width="32.70" height="3.58" fill="#bf0020" />
<rect x="66.00" y="501.68" width="32.70" height="3.58" fill="#bf0020" />
<rect x="66.00" y="505.26" width="32.70" height="3.58" fill="#bf0020" />
<rect x="66.00" y="508.84" width="32.70" height="3.58" fill="#bf0020" />
<rect x="66.00" y="512.42" width="32.70" height="3.58" fill="#bf0020" />
<rect x="66.00" y="516.00" width="32.70" height="3.58" fill="#d63448" />
<rect x="66.00" y="519.58" width="32.70" height="3.58" fill="#b0001c" />
<rect x="66.00" y="523.16" width="32.70" height="3.58" fill="#b0001c" />
<rect x="66.00" y="526.74" width="32.70" height="3.58" fill="#bf0020" />
<rect x="66.00" y="530.32" width="32.70" height="3.58" fill="#bf0020" />
<rect x="66.00" y="533.90" width="32.70" height="3.58" fill="#bf0020" />
<rect x="66.00" y="537.48" width="32.70" height="3.58" fill="#bf0020" />
<rect x="66.00" y="541.06" width="32.70" height="3.58" fill="#bf0020" />
<rect x="66.00" y="544.64" width="32.70" height="3.58" fill="#bf0020" />
<rect x="66.00" y="548.22" width="32.70" height="3.58" fill="#bf0020" />
<rect x="66.00" y="551.80" width="32.70" height="3.58" fill="#bf0020" />
<rect x="66.00" y="555.38" width="32.70" height="3.58" fill="#bf0020" />
<rect x="66.00" y="558.96" width="32.70" height="3.58" fill="#bf0020" />
<rect x="66.00" y="562.54" width="32.70" height="3.58" fill="#bf0020" />
<rect x="66.00" y="566.12" width="32.70" height="3.58" fill="#bf0020" />
<rect x="66.00" y="501.08" width="32.70" height="1.20" fill="#f27b88" />
<rect x="66.00" y="504.66" width="32.70" height="1.20" fill="#f27b88" />
<rect x="66.00" y="508.24" width="32.70" height="1.20" fill="#f27b88" />
<rect x="66.00" y="511.82" width="32.70" height="1.20" fill="#f27b88" />
<rect x="66.00" y="515.40" width="32.70" height="1.20" fill="#f27b88" />
<rect x="66.00" y="518.98" width="32.70" height="1.20" fill="#f27b88" />
<rect x="66.00" y="522.56" width="32.70" height="1.20" fill="#f27b88" />
<rect x="66.00" y="526.14" width="32.70" height="1.20" fill="#f27b88" />
<rect x="66.00" y="529.72" width="32.70" height="1.20" fill="#f27b88" />
<rect x="66.00" y="533.30" width="32.70" height="1.20" fill="#f27b88" />
<rect x="66.00" y="536.88" width="32.70" height="1.20" fill="#f27b88" />
<rect x="66.00" y="540.46" width="32.70" height="1.20" fill="#f27b88" />
<rect x="66.00" y="544.04" width="32.70" height="1.20" fill="#f27b88" />
<rect x="66.00" y="547.62" width="32.70" height="1.20" fill="#f27b88" />
<rect x="66.00" y="551.20" width="32.70" height="1.20" fill="#f27b88" />
<rect x="66.00" y="554.78" width="32.70" height="1.20" fill="#f27b88" />
<rect x="66.00" y="558.36" width="32.70" height="1.20" fill="#f27b88" />
<rect x="66.00" y="561.94" width="32.70" height="1.20" fill="#f27b88" />
<rect x="66.00" y="565.52" width="32.70" height="1.20" fill="#f27b88" />
<rect x="112.40" y="498.10" width="33.40" height="3.58" fill="#a0a0a0" />
<rect x="112.40" y="501.68" width="33.40" height="3.58" fill="#a0a0a0" />
<rect x="112.40" y="505.26" width="33.40" height="3.58" fill="#a0a0a0" />
<rect x="112.40" y="508.84" width="33.40" height="3.58" fill="#a0a0a0" />
<rect x="112.40" y="512.42" width="33.40" height="3.58" fill="#a0a0a0" />
<rect x="112.40" y="516.00" width="33.40" height="3.58" fill="#a0a0a0" />
<rect x="112.40" y="519.58" width="33.40" height="3.58" fill="#a0a0a0" />
<rect x="112.40" y="523.16" width="33.40" height="3.58" fill="#a0a0a0" />
<rect x="112.40" y="526.74" width="33.40" height="3.58" fill="#a0a0a0" />
<rect x="112.40" y="530.32" width="33.40" height="3.58" fill="#a0a0a0" />
<rect x="112.40" y="533.90" width="33.40" height="3.58" fill="#a0a0a0" />
<rect x="112.40" y="537.48" width="33.40" height="3.58" fill="#a0a0a0" />
<rect x="112.40" y="541.06" width="33.40" height="3.58" fill="#a0a0a0" />
<rect x="112.40" y="544.64" width="33.40" height="3.58" fill="#a0a0a0" />
<rect x="112.40" y="548.22" width="33.40" height="3.58" fill="#a0a0a0" />
<rect x="112.40" y="551.80" width="33.40" height="3.58" fill="#a0a0a0" />
<rect x="112.40" y="555.38" width="33.40" height="3.58" fill="#a0a0a0" />
<rect x="112.40" y="558.96" width="33.40" height="3.58" fill="#a0a0a0" />
<rect x="112.40" y="562.54" width="33.40" height="3.58" fill="#a0a0a0" />
<rect x="112.40" y="566.12" width="33.40" height="3.58" fill="#a0a0a0" />
<rect x="112.40" y="501.13" width="33.40" height="1.10" fill="#cdcdcd" />
<rect x="112.40" y="504.71" width="33.40" height="1.10" fill="#cdcdcd" />
<rect x="112.40" y="508.29" width="33.40" height="1.10" fill="#cdcdcd" />
<rect x="112.40" y="511.87" width="33.40" height="1.10" fill="#cdcdcd" />
<rect x="112.40" y="515.45" width="33.40" height="1.10" fill="#cdcdcd" />
<rect x="112.40" y="519.03" width="33.40" height="1.10" fill="#cdcdcd" />
<rect x="112.40" y="522.61" width="33.40" height="1.10" fill="#cdcdcd" />
<rect x="112.40" y="526.19" width="33.40" height="1.10" fill="#cdcdcd" />
<rect x="112.40" y="529.77" width="33.40" height="1.10" fill="#cdcdcd" />
<rect x="112.40" y="533.35" width="33.40" height="1.10" fill="#cdcdcd" />
<rect x="112.40" y="536.93" width="33.40" height="1.10" fill="#cdcdcd" />
<rect x="112.40" y="540.51" width="33.40" height="1.10" fill="#cdcdcd" />
<rect x="112.40" y="544.09" width="33.40" height="1.10" fill="#cdcdcd" />
<rect x="112.40" y="547.67" width="33.40" height="1.10" fill="#cdcdcd" />
<rect x="112.40" y="551.25" width="33.40" height="1.10" fill="#cdcdcd" />
<rect x="112.40" y="554.83" width="33.40" height="1.10" fill="#cdcdcd" />
<rect x="112.40" y="558.41" width="33.40" height="1.10" fill="#cdcdcd" />
<rect x="112.40" y="561.99" width="33.40" height="1.10" fill="#cdcdcd" />
<rect x="112.40" y="565.57" width="33.40" height="1.10" fill="#cdcdcd" />
<rect x="145.80" y="498.10" width="32.30" height="3.58" fill="#bf0020" />
<rect x="145.80" y="501.68" width="32.30" height="3.58" fill="#bf0020" />
<rect x="145.80" y="505.26" width="32.30" height="3.58" fill="#bf0020" />
<rect x="145.80" y="508.84" width="32.30" height="3.58" fill="#b0001c" />
<rect x="145.80" y="512.42" width="32.30" height="3.58" fill="#bf0020" />
<rect x="145.80" y="516.00" width="32.30" height="3.58" fill="#bf0020" />
<rect x="145.80" y="519.58" width="32.30" height="3.58" fill="#bf0020" />
<rect x="145.80" y="523.16" width="32.30" height="3.58" fill="#bf0020" />
<rect x="145.80" y="526.74" width="32.30" height="3.58" fill="#bf0020" />
<rect x="145.80" y="530.32" width="32.30" height="3.58" fill="#b0001c" />
<rect x="145.80" y="533.90" width="32.30" height="3.58" fill="#bf0020" />
<rect x="145.80" y="537.48" width="32.30" height="3.58" fill="#bf0020" />
<rect x="145.80" y="541.06" width="32.30" height="3.58" fill="#b0001c" />
<rect x="145.80" y="544.64" width="32.30" height="3.58" fill="#d63448" />
<rect x="145.80" y="548.22" width="32.30" height="3.58" fill="#bf0020" />
<rect x="145.80" y="551.80" width="32.30" height="3.58" fill="#bf0020" />
<rect x="145.80" y="555.38" width="32.30" height="3.58" fill="#d63448" />
<rect x="145.80" y="558.96" width="32.30" height="3.58" fill="#bf0020" />
<rect x="145.80" y="562.54" width="32.30" height="3.58" fill="#bf0020" />
<rect x="145.80" y="566.12" width="32.30" height="3.58" fill="#b0001c" />
<rect x="145.80" y="501.08" width="32.30" height="1.20" fill="#f27b88" />
<rect x="145.80" y="504.66" width="32.30" height="1.20" fill="#f27b88" />
<rect x="145.80" y="508.24" width="32.30" height="1.20" fill="#f27b88" />
<rect x="145.80" y="511.82" width="32.30" height="1.20" fill="#f27b88" />
<rect x="145.80" y="515.40" width="32.30" height="1.20" fill="#f27b88" />
<rect x="145.80" y="518.98" width="32.30" height="1.20" fill="#f27b88" />
<rect x="145.80" y="522.56" width="32.30" height="1.20" fill="#f27b88" />
<rect x="145.80" y="526.14" width="32.30" height="1.20" fill="#f27b88" />
<rect x="145.80" y="529.72" width="32.30" height="1.20" fill="#f27b88" />
<rect x="145.80" y="533.30" width="32.30" height="1.20" fill="#f27b88" />
<rect x="145.80" y="536.88" width="32.30" height="1.20" fill="#f27b88" />
<rect x="145.80" y="540.46" width="32.30" height="1.20" fill="#f27b88" />
<rect x="145.80" y="544.04" width="32.30" height="1.20" fill="#f27b88" />
<rect x="145.80" y="547.62" width="32.30" height="1.20" fill="#f27b88" />
<rect x="145.80" y="551.20" width="32.30" height="1.20" fill="#f27b88" />
<rect x="145.80" y="554.78" width="32.30" height="1.20" fill="#f27b88" />
<rect x="145.80" y="558.36" width="32.30" height="1.20" fill="#f27b88" />
<rect x="145.80" y="561.94" width="32.30" height="1.20" fill="#f27b88" />
<rect x="145.80" y="565.52" width="32.30" height="1.20" fill="#f27b88" />
<rect x="66.00" y="574.00" width="32.70" height="3.58" fill="#a0a0a0" />
<rect x="66.00" y="577.58" width="32.70" height="3.58" fill="#a0a0a0" />
<rect x="66.00" y="581.16" width="32.70" height="3.58" fill="#a0a0a0" />
<rect x="66.00" y="584.74" width="32.70" height="3.58" fill="#a0a0a0" />
<rect x="66.00" y="588.32" width="32.70" height="3.58" fill="#a0a0a0" />
<rect x="66.00" y="591.90" width="32.70" height="3.58" fill="#a0a0a0" />
<rect x="66.00" y="595.48" width="32.70" height="3.58" fill="#a0a0a0" />
<rect x="66.00" y="599.06" width="32.70" height="3.58" fill="#a0a0a0" />
<rect x="66.00" y="602.64" width="32.70" height="3.58" fill="#a0a0a0" />
<rect x="66.00" y="606.22" width="32.70" height="3.58" fill="#a0a0a0" />
<rect x="66.00" y="609.80" width="32.70" height="3.58" fill="#a0a0a0" />
<rect x="66.00" y="613.38" width="32.70" height="3.58" fill="#a0a0a0" />
<rect x="66.00" y="616.96" width="32.70" height="3.58" fill="#a0a0a0" />
<rect x="66.00" y="620.54" width="32.70" height="3.58" fill="#a0a0a0" />
<rect x="66.00" y="624.12" width="32.70" height="3.58" fill="#a0a0a0" />
<rect x="66.00" y="627.70" width="32.70" height="3.58" fill="#a0a0a0" />
<rect x="66.00" y="631.28" width="32.70" height="3.58" fill="#a0a0a0" />
<rect x="66.00" y="577.03" width="32.70" height="1.10" fill="#cdcdcd" />
<rect x="66.00" y="580.61" width="32.70" height="1.10" fill="#cdcdcd" />
<rect x="66.00" y="584.19" width="32.70" height="1.10" fill="#cdcdcd" />
<rect x="66.00" y="587.77" width="32.70" height="1.10" fill="#cdcdcd" />
<rect x="66.00" y="591.35" width="32.70" height="1.10" fill="#cdcdcd" />
<rect x="66.00" y="594.93" width="32.70" height="1.10" fill="#cdcdcd" />
<rect x="66.00" y="598.51" width="32.70" height="1.10" fill="#cdcdcd" />
<rect x="66.00" y="602.09" width="32.70" height="1.10" fill="#cdcdcd" />
<rect x="66.00" y="605.67" width="32.70" height="1.10" fill="#cdcdcd" />
<rect x="66.00" y="609.25" width="32.70" height="1.10" fill="#cdcdcd" />
<rect x="66.00" y="612.83" width="32.70" height="1.10" fill="#cdcdcd" />
<rect x="66.00" y="616.41" width="32.70" height="1.10" fill="#cdcdcd" />
<rect x="66.00" y="619.99" width="32.70" height="1.10" fill="#cdcdcd" />
<rect x="66.00" y="623.57" width="32.70" height="1.10" fill="#cdcdcd" />
<rect x="66.00" y="627.15" width="32.70" height="1.10" fill="#cdcdcd" />
<rect x="66.00" y="630.73" width="32.70" height="1.10" fill="#cdcdcd" />
<line x1="57.2" y1="435.3" x2="57.2" y2="492.5" stroke="#555" stroke-width="1.1" />
<line x1="57.2" y1="498.3" x2="57.2" y2="569.6" stroke="#555" stroke-width="1.1" />
<line x1="57.2" y1="574.7" x2="57.2" y2="634.3" stroke="#555" stroke-width="1.1" />
<text x="40.4" y="457.0" font-size="8.86" text-anchor="middle" fill="#383838" font-weight="normal" font-style="normal" textLength="20" lengthAdjust="spacingAndGlyphs" stroke="#383838" stroke-width="0.12" >Short</text>
<text x="40.4" y="466.7" font-size="8.86" text-anchor="middle" fill="#383838" font-weight="normal" font-style="normal" textLength="27.8" lengthAdjust="spacingAndGlyphs" stroke="#383838" stroke-width="0.12" >isoform</text>
<text x="40.3" y="477.0" font-size="8.86" text-anchor="middle" fill="#383838" font-weight="normal" font-style="normal" textLength="15" lengthAdjust="spacingAndGlyphs" stroke="#383838" stroke-width="0.12" >APL</text>
<text x="40.1" y="528.2" font-size="8.86" text-anchor="middle" fill="#383838" font-weight="normal" font-style="normal" textLength="18.8" lengthAdjust="spacingAndGlyphs" stroke="#383838" stroke-width="0.12" >Long</text>
<text x="40.4" y="537.3" font-size="8.86" text-anchor="middle" fill="#383838" font-weight="normal" font-style="normal" textLength="27.8" lengthAdjust="spacingAndGlyphs" stroke="#383838" stroke-width="0.12" >isoform</text>
<text x="40.3" y="547.1" font-size="8.86" text-anchor="middle" fill="#383838" font-weight="normal" font-style="normal" textLength="15" lengthAdjust="spacingAndGlyphs" stroke="#383838" stroke-width="0.12" >APL</text>
<text x="37.5" y="602.6" font-size="8.86" text-anchor="middle" fill="#383838" font-weight="normal" font-style="normal" textLength="33.5" lengthAdjust="spacingAndGlyphs" stroke="#383838" stroke-width="0.12" >Negative</text>
<text x="37.4" y="612.0" font-size="8.86" text-anchor="middle" fill="#383838" font-weight="normal" font-style="normal" textLength="29.3" lengthAdjust="spacingAndGlyphs" stroke="#383838" stroke-width="0.12" >controls</text>
<defs><linearGradient id="lg" x1="0" x2="1" y1="0" y2="0"><stop offset="0" stop-color="#a19b9b"/><stop offset="0.5" stop-color="#ca5e60"/><stop offset="0.78" stop-color="#d8272b"/><stop offset="1" stop-color="#de0c12"/></linearGradient></defs>
<rect x="111.40" y="583.30" width="68.40" height="16.00" fill="url(#lg)" stroke="#555" stroke-width="0.8"/>
<line x1="146.4" y1="583.7" x2="146.4" y2="599.0" stroke="#7a3030" stroke-width="0.6" />
<text x="110.7" y="609.4" font-size="8.86" text-anchor="middle" fill="#383838" font-weight="normal" font-style="normal" stroke="#383838" stroke-width="0.12" >0</text>
<text x="146.4" y="609.4" font-size="8.86" text-anchor="middle" fill="#383838" font-weight="normal" font-style="normal" stroke="#383838" stroke-width="0.12" >500</text>
<text x="179.6" y="609.4" font-size="8.86" text-anchor="middle" fill="#383838" font-weight="normal" font-style="normal" stroke="#383838" stroke-width="0.12" >1000</text>
<text x="109.6" y="623.0" font-size="9.72" text-anchor="start" fill="#383838" font-weight="normal" font-style="normal" textLength="71.8" lengthAdjust="spacingAndGlyphs" stroke="#383838" stroke-width="0.12" >Relative fluorescence</text>
<text x="145.3" y="632.2" font-size="9.72" text-anchor="middle" fill="#383838" font-weight="normal" font-style="normal" textLength="29" lengthAdjust="spacingAndGlyphs" stroke="#383838" stroke-width="0.12" >intensity</text>
<text x="274.5" y="393.7" font-size="10.15" text-anchor="start" fill="#383838" font-weight="normal" font-style="normal" textLength="74.3" lengthAdjust="spacingAndGlyphs" stroke="#383838" stroke-width="0.12" >Isoform-agnostic</text>
<text x="278.8" y="406.0" font-size="10.15" text-anchor="start" fill="#383838" font-weight="normal" font-style="normal" textLength="65.8" lengthAdjust="spacingAndGlyphs" stroke="#383838" stroke-width="0.12" >APL diagnostic</text>
<line x1="253.5" y1="411.1" x2="253.5" y2="517.6" stroke="#222" stroke-width="1" />
<line x1="253.5" y1="517.5" x2="369.5" y2="517.5" stroke="#222" stroke-width="1" />
<line x1="250.8" y1="413.7" x2="253.5" y2="413.7" stroke="#222" stroke-width="1" />
<text x="248.4" y="416.7" font-size="8.86" text-anchor="end" fill="#383838" font-weight="normal" font-style="normal" textLength="17.34" lengthAdjust="spacingAndGlyphs" stroke="#383838" stroke-width="0.12" >1000</text>
<line x1="250.8" y1="465.7" x2="253.5" y2="465.7" stroke="#222" stroke-width="1" />
<text x="248.4" y="468.7" font-size="8.86" text-anchor="end" fill="#383838" font-weight="normal" font-style="normal" textLength="13.0" lengthAdjust="spacingAndGlyphs" stroke="#383838" stroke-width="0.12" >500</text>
<line x1="250.8" y1="517.3" x2="253.5" y2="517.3" stroke="#222" stroke-width="1" />
<text x="248.4" y="520.3" font-size="8.86" text-anchor="end" fill="#383838" font-weight="normal" font-style="normal" textLength="4.33" lengthAdjust="spacingAndGlyphs" stroke="#383838" stroke-width="0.12" >0</text>
<line x1="252.0" y1="440.4" x2="253.5" y2="440.4" stroke="#222" stroke-width="0.8" />
<line x1="252.0" y1="491.9" x2="253.5" y2="491.9" stroke="#222" stroke-width="0.8" />
<line x1="287.0" y1="517.5" x2="287.0" y2="520.8" stroke="#222" stroke-width="1" />
<line x1="336.3" y1="517.5" x2="336.3" y2="520.8" stroke="#222" stroke-width="1" />
<text x="221.5" y="464.0" font-size="9.5" text-anchor="middle" fill="#383838" font-weight="normal" font-style="normal" textLength="100" lengthAdjust="spacingAndGlyphs" stroke="#383838" stroke-width="0.12" transform="rotate(-90 221.5 464.0) translate(0 2.4)">Relative fluoresence intensity</text>
<text x="286.6" y="531.3" font-size="8.86" text-anchor="middle" fill="#383838" font-weight="normal" font-style="normal" textLength="39.2" lengthAdjust="spacingAndGlyphs" stroke="#383838" stroke-width="0.12" >Diagnostic</text>
<text x="285.4" y="541.3" font-size="8.86" text-anchor="middle" fill="#383838" font-weight="normal" font-style="normal" textLength="46.8" lengthAdjust="spacingAndGlyphs" stroke="#383838" stroke-width="0.12" >APL samples</text>
<text x="336.3" y="531.3" font-size="8.86" text-anchor="middle" fill="#383838" font-weight="normal" font-style="normal" textLength="32.5" lengthAdjust="spacingAndGlyphs" stroke="#383838" stroke-width="0.12" >Negative</text>
<text x="336.6" y="541.3" font-size="8.86" text-anchor="middle" fill="#383838" font-weight="normal" font-style="normal" textLength="25.8" lengthAdjust="spacingAndGlyphs" stroke="#383838" stroke-width="0.12" >control</text>
<line x1="286.3" y1="426.4" x2="286.3" y2="468.6" stroke="#333" stroke-width="0.9" />
<line x1="278.3" y1="426.4" x2="294.4" y2="426.4" stroke="#333" stroke-width="0.9" />
<line x1="278.3" y1="468.6" x2="294.4" y2="468.6" stroke="#333" stroke-width="0.9" />
<rect x="270.50" y="440.30" width="32.30" height="5.00" fill="#cc3640" stroke="#7a1f24" stroke-width="0.9"/>
<circle cx="281.55" cy="441.05" r="1.25" fill="#d2323c" stroke="#a0141e" stroke-width="0.4"/>
<circle cx="291.20" cy="440.66" r="1.25" fill="#d2323c" stroke="#a0141e" stroke-width="0.4"/>
<circle cx="287.81" cy="442.13" r="1.25" fill="#d2323c" stroke="#a0141e" stroke-width="0.4"/>
<circle cx="273.71" cy="442.84" r="1.25" fill="#d2323c" stroke="#a0141e" stroke-width="0.4"/>
<circle cx="273.11" cy="442.47" r="1.25" fill="#d2323c" stroke="#a0141e" stroke-width="0.4"/>
<circle cx="274.06" cy="440.75" r="1.25" fill="#d2323c" stroke="#a0141e" stroke-width="0.4"/>
<circle cx="284.52" cy="444.43" r="1.25" fill="#d2323c" stroke="#a0141e" stroke-width="0.4"/>
<circle cx="275.65" cy="441.42" r="1.25" fill="#d2323c" stroke="#a0141e" stroke-width="0.4"/>
<circle cx="290.51" cy="445.04" r="1.25" fill="#d2323c" stroke="#a0141e" stroke-width="0.4"/>
<circle cx="289.02" cy="442.28" r="1.25" fill="#d2323c" stroke="#a0141e" stroke-width="0.4"/>
<circle cx="300.80" cy="440.53" r="1.25" fill="#d2323c" stroke="#a0141e" stroke-width="0.4"/>
<circle cx="297.32" cy="441.75" r="1.25" fill="#d2323c" stroke="#a0141e" stroke-width="0.4"/>
<circle cx="276.26" cy="440.89" r="1.25" fill="#d2323c" stroke="#a0141e" stroke-width="0.4"/>
<circle cx="281.10" cy="444.38" r="1.25" fill="#d2323c" stroke="#a0141e" stroke-width="0.4"/>
<circle cx="277.33" cy="443.21" r="1.25" fill="#d2323c" stroke="#a0141e" stroke-width="0.4"/>
<circle cx="290.85" cy="442.16" r="1.25" fill="#d2323c" stroke="#a0141e" stroke-width="0.4"/>
<circle cx="288.16" cy="440.61" r="1.25" fill="#d2323c" stroke="#a0141e" stroke-width="0.4"/>
<circle cx="273.76" cy="441.33" r="1.25" fill="#d2323c" stroke="#a0141e" stroke-width="0.4"/>
<circle cx="292.07" cy="442.44" r="1.25" fill="#d2323c" stroke="#a0141e" stroke-width="0.4"/>
<circle cx="281.27" cy="443.23" r="1.25" fill="#d2323c" stroke="#a0141e" stroke-width="0.4"/>
<circle cx="285.37" cy="441.80" r="1.25" fill="#d2323c" stroke="#a0141e" stroke-width="0.4"/>
<circle cx="295.43" cy="443.79" r="1.25" fill="#d2323c" stroke="#a0141e" stroke-width="0.4"/>
<circle cx="279.20" cy="443.17" r="1.25" fill="#d2323c" stroke="#a0141e" stroke-width="0.4"/>
<circle cx="287.49" cy="444.68" r="1.25" fill="#d2323c" stroke="#a0141e" stroke-width="0.4"/>
<circle cx="293.52" cy="441.74" r="1.25" fill="#d2323c" stroke="#a0141e" stroke-width="0.4"/>
<circle cx="300.92" cy="440.89" r="1.25" fill="#d2323c" stroke="#a0141e" stroke-width="0.4"/>
<circle cx="284.33" cy="444.09" r="1.25" fill="#d2323c" stroke="#a0141e" stroke-width="0.4"/>
<circle cx="276.48" cy="442.74" r="1.25" fill="#d2323c" stroke="#a0141e" stroke-width="0.4"/>
<circle cx="273.16" cy="443.64" r="1.25" fill="#d2323c" stroke="#a0141e" stroke-width="0.4"/>
<circle cx="294.55" cy="443.17" r="1.25" fill="#d2323c" stroke="#a0141e" stroke-width="0.4"/>
<circle cx="297.83" cy="441.87" r="1.25" fill="#d2323c" stroke="#a0141e" stroke-width="0.4"/>
<circle cx="292.51" cy="443.27" r="1.25" fill="#d2323c" stroke="#a0141e" stroke-width="0.4"/>
<circle cx="289.11" cy="442.58" r="1.25" fill="#d2323c" stroke="#a0141e" stroke-width="0.4"/>
<circle cx="296.78" cy="445.02" r="1.25" fill="#d2323c" stroke="#a0141e" stroke-width="0.4"/>
<circle cx="285.99" cy="443.62" r="1.25" fill="#d2323c" stroke="#a0141e" stroke-width="0.4"/>
<circle cx="273.79" cy="443.81" r="1.25" fill="#d2323c" stroke="#a0141e" stroke-width="0.4"/>
<circle cx="291.09" cy="445.27" r="1.25" fill="#d2323c" stroke="#a0141e" stroke-width="0.4"/>
<circle cx="296.25" cy="441.72" r="1.25" fill="#d2323c" stroke="#a0141e" stroke-width="0.4"/>
<circle cx="283.38" cy="443.64" r="1.25" fill="#d2323c" stroke="#a0141e" stroke-width="0.4"/>
<circle cx="272.67" cy="442.61" r="1.25" fill="#d2323c" stroke="#a0141e" stroke-width="0.4"/>
<circle cx="286.30" cy="468.60" r="1.25" fill="#d2323c" stroke="#a0141e" stroke-width="0.4"/>
<circle cx="292.40" cy="436.30" r="1.25" fill="#d2323c" stroke="#a0141e" stroke-width="0.4"/>
<circle cx="286.30" cy="430.50" r="1.25" fill="#d2323c" stroke="#a0141e" stroke-width="0.4"/>
<circle cx="286.60" cy="433.80" r="1.25" fill="#d2323c" stroke="#a0141e" stroke-width="0.4"/>
<circle cx="280.30" cy="448.00" r="1.25" fill="#d2323c" stroke="#a0141e" stroke-width="0.4"/>
<circle cx="280.30" cy="451.30" r="1.25" fill="#d2323c" stroke="#a0141e" stroke-width="0.4"/>
<circle cx="292.80" cy="450.30" r="1.25" fill="#d2323c" stroke="#a0141e" stroke-width="0.4"/>
<circle cx="286.30" cy="448.60" r="1.25" fill="#d2323c" stroke="#a0141e" stroke-width="0.4"/>
<circle cx="299.50" cy="446.20" r="1.25" fill="#d2323c" stroke="#a0141e" stroke-width="0.4"/>
<circle cx="274.00" cy="446.20" r="1.25" fill="#d2323c" stroke="#a0141e" stroke-width="0.4"/>
<circle cx="282.50" cy="426.80" r="1.25" fill="#d2323c" stroke="#a0141e" stroke-width="0.4"/>
<circle cx="289.80" cy="426.60" r="1.25" fill="#d2323c" stroke="#a0141e" stroke-width="0.4"/>
<line x1="270.5" y1="442.6" x2="302.8" y2="442.6" stroke="#7a1f24" stroke-width="0.9" />
<rect x="320.30" y="514.30" width="32.40" height="3.00" fill="#33508c" />
<circle cx="335.02" cy="514.90" r="0.9" fill="#2e4a86"/>
<circle cx="349.65" cy="514.75" r="0.9" fill="#2e4a86"/>
<circle cx="336.74" cy="514.94" r="0.9" fill="#2e4a86"/>
<circle cx="326.72" cy="514.82" r="0.9" fill="#2e4a86"/>
<circle cx="340.53" cy="515.27" r="0.9" fill="#2e4a86"/>
<circle cx="323.92" cy="514.49" r="0.9" fill="#2e4a86"/>
<circle cx="323.81" cy="515.30" r="0.9" fill="#2e4a86"/>
<circle cx="342.50" cy="514.07" r="0.9" fill="#2e4a86"/>
<circle cx="351.45" cy="515.54" r="0.9" fill="#2e4a86"/>
<circle cx="341.27" cy="514.98" r="0.9" fill="#2e4a86"/>
<circle cx="325.88" cy="514.02" r="0.9" fill="#2e4a86"/>
<circle cx="337.38" cy="514.10" r="0.9" fill="#2e4a86"/>
<circle cx="326.90" cy="514.39" r="0.9" fill="#2e4a86"/>
<circle cx="321.93" cy="514.74" r="0.9" fill="#2e4a86"/>
<circle cx="334.66" cy="515.35" r="0.9" fill="#2e4a86"/>
<circle cx="337.09" cy="515.02" r="0.9" fill="#2e4a86"/>
<circle cx="336.49" cy="515.06" r="0.9" fill="#2e4a86"/>
<circle cx="335.18" cy="514.45" r="0.9" fill="#2e4a86"/>
<circle cx="351.93" cy="515.59" r="0.9" fill="#2e4a86"/>
<circle cx="347.05" cy="515.13" r="0.9" fill="#2e4a86"/>
<circle cx="330.77" cy="514.37" r="0.9" fill="#2e4a86"/>
<circle cx="329.96" cy="514.11" r="0.9" fill="#2e4a86"/>
<circle cx="328.50" cy="513.6" r="0.8" fill="#3a5590"/>
<circle cx="333.50" cy="513.6" r="0.8" fill="#3a5590"/>
<circle cx="337.00" cy="513.6" r="0.8" fill="#3a5590"/>
<circle cx="345.00" cy="513.6" r="0.8" fill="#3a5590"/>
<text x="446.5" y="394.2" font-size="10.15" text-anchor="start" fill="#383838" font-weight="normal" font-style="italic" textLength="50.7" lengthAdjust="spacingAndGlyphs" stroke="#383838" stroke-width="0.12" >PML::RARA</text>
<text x="454.5" y="405.9" font-size="10.15" text-anchor="start" fill="#383838" font-weight="normal" font-style="normal" textLength="34.3" lengthAdjust="spacingAndGlyphs" stroke="#383838" stroke-width="0.12" >RT-PCR</text>
<text x="450.8" y="418.4" font-size="8.64" text-anchor="middle" fill="#383838" font-weight="normal" font-style="normal" stroke="#383838" stroke-width="0.12" >+</text>
<text x="492.6" y="418.4" font-size="8.64" text-anchor="middle" fill="#383838" font-weight="normal" font-style="normal" stroke="#383838" stroke-width="0.12" >–</text>
<rect x="430.00" y="423.00" width="40.80" height="41.00" fill="#c30223" />
<rect x="472.70" y="423.00" width="40.60" height="41.00" fill="#c8c7cb" />
<rect x="430.00" y="465.20" width="40.80" height="40.20" fill="#c8c7cb" />
<rect x="472.70" y="465.20" width="40.60" height="40.20" fill="#9f9fa0" />
<text x="451.2" y="446.6" font-size="9.72" text-anchor="middle" fill="#fff" font-weight="normal" font-style="normal" textLength="8.6" lengthAdjust="spacingAndGlyphs" >36</text>
<text x="493.0" y="446.6" font-size="9.72" text-anchor="middle" fill="#383838" font-weight="normal" font-style="normal" stroke="#383838" stroke-width="0.12" >0</text>
<text x="451.0" y="488.3" font-size="9.72" text-anchor="middle" fill="#383838" font-weight="normal" font-style="normal" stroke="#383838" stroke-width="0.12" >0</text>
<text x="492.6" y="488.3" font-size="9.72" text-anchor="middle" fill="#f0f0f0" font-weight="normal" font-style="normal" textLength="8.2" lengthAdjust="spacingAndGlyphs" >17</text>
<text x="424.6" y="447.1" font-size="8.64" text-anchor="middle" fill="#383838" font-weight="normal" font-style="normal" stroke="#383838" stroke-width="0.12" >+</text>
<text x="424.6" y="488.0" font-size="8.64" text-anchor="middle" fill="#383838" font-weight="normal" font-style="normal" stroke="#383838" stroke-width="0.12" >–</text>
<text x="403.0" y="464.2" font-size="9.07" text-anchor="middle" fill="#383838" font-weight="normal" font-style="normal" textLength="58.9" lengthAdjust="spacingAndGlyphs" stroke="#383838" stroke-width="0.12" transform="rotate(-90 403.0 464.2)">Isoform-agnostic</text>
<text x="415.0" y="464.2" font-size="9.07" text-anchor="middle" fill="#383838" font-weight="normal" font-style="normal" textLength="77.6" lengthAdjust="spacingAndGlyphs" stroke="#383838" stroke-width="0.12" transform="rotate(-90 415.0 464.2)"><tspan font-style="italic">PML::RARA</tspan>-SHERLOCK</text>
<rect x="0.5" y="0.5" width="519" height="643" fill="none" stroke="#484848" stroke-width="1"/>
</svg>
</body></html>
